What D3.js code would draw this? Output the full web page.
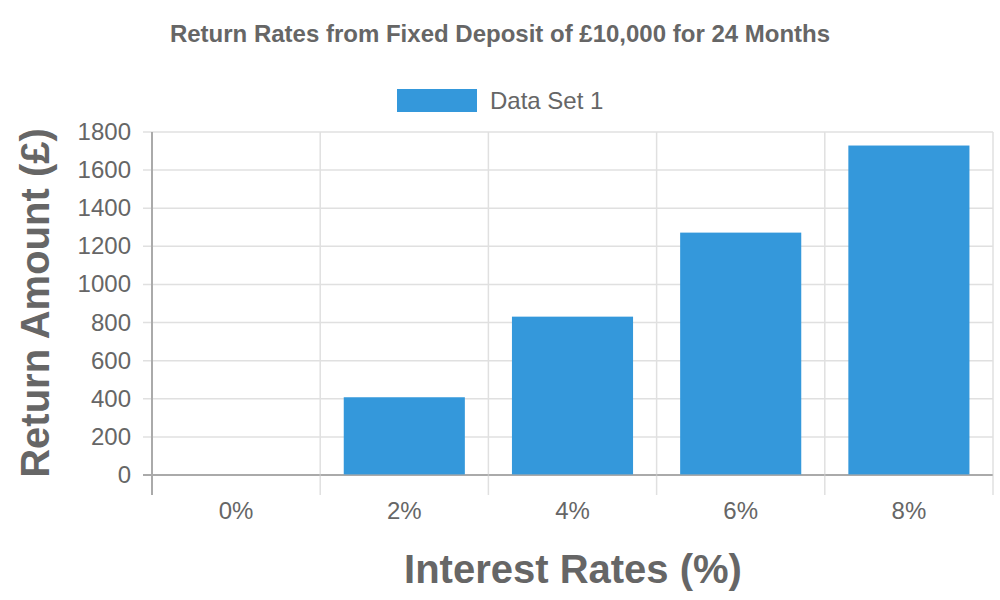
<!DOCTYPE html>
<html><head><meta charset="utf-8">
<script src="https://cdn.jsdelivr.net/npm/d3@7"></script>
<style>body{margin:0;background:#fff;font-family:"Liberation Sans",Arial,sans-serif}</style>
</head><body><svg id="c" width="1000" height="600"></svg>
<script>
const categories = ["0%","2%","4%","6%","8%"];
const values = [0, 408, 831, 1272, 1729];
const yTicks = [0,200,400,600,800,1000,1200,1400,1600,1800];
const seriesName = "Data Set 1";
const title = "Return Rates from Fixed Deposit of £10,000 for 24 Months";
const xTitle = "Interest Rates (%)";
const yTitle = "Return Amount (£)";

const svg = d3.select("#c");
const L=152, R=993, T=132, B=475;
const x = d3.scaleBand().domain(categories).range([L,R]).paddingInner(0.28).paddingOuter(0.14);
const xg = d3.scaleBand().domain(categories).range([L,R]);
const y = d3.scaleLinear().domain([0,1800]).range([B,T]);
const txt="#666", grid="#e0e0e0", axis="#aaa";

svg.append("text").attr("x",500).attr("y",42).attr("text-anchor","middle")
  .attr("font-size",24).attr("font-weight","bold").attr("fill",txt).text(title);

// legend
svg.append("rect").attr("x",397).attr("y",89).attr("width",80).attr("height",23).attr("fill","#3498db");
svg.append("text").attr("x",490).attr("y",109).attr("font-size",24).attr("fill",txt).text(seriesName);

// horizontal grid
svg.append("g").selectAll("line").data(yTicks).join("line")
  .attr("x1",143).attr("x2",R).attr("y1",d=>y(d)).attr("y2",d=>y(d))
  .attr("stroke",d=>d===0?axis:grid).attr("stroke-width",d=>d===0?2:1.5);
// vertical grid
const vx = categories.map(c=>xg(c)).concat([R]);
svg.append("g").selectAll("line").data(vx).join("line")
  .attr("x1",d=>d).attr("x2",d=>d).attr("y1",T).attr("y2",495)
  .attr("stroke",(d,i)=>i===0?axis:grid).attr("stroke-width",(d,i)=>i===0?2:1.5);

// bars
svg.append("g").selectAll("rect").data(values).join("rect")
  .attr("x",(d,i)=>x(categories[i])).attr("width",x.bandwidth())
  .attr("y",d=>y(d)).attr("height",d=>B-y(d)).attr("fill","#3498db");
svg.append("line").attr("x1",L).attr("x2",R).attr("y1",B).attr("y2",B).attr("stroke",axis).attr("stroke-width",2).attr("opacity",0.6);

// y tick labels
svg.append("g").selectAll("text").data(yTicks).join("text")
  .attr("x",131).attr("y",d=>y(d)+8).attr("text-anchor","end")
  .attr("font-size",24).attr("fill",txt).text(d=>d);
// x tick labels
svg.append("g").selectAll("text").data(categories).join("text")
  .attr("x",d=>xg(d)+xg.bandwidth()/2).attr("y",519).attr("text-anchor","middle")
  .attr("font-size",24).attr("fill",txt).text(d=>d);

svg.append("text").attr("x",573).attr("y",583).attr("text-anchor","middle")
  .attr("font-size",40).attr("font-weight","bold").attr("fill",txt).text(xTitle);
svg.append("text").attr("transform","translate(49,303) rotate(-90)").attr("text-anchor","middle")
  .attr("font-size",40).attr("font-weight","bold").attr("fill",txt).text(yTitle);
</script></body></html>
